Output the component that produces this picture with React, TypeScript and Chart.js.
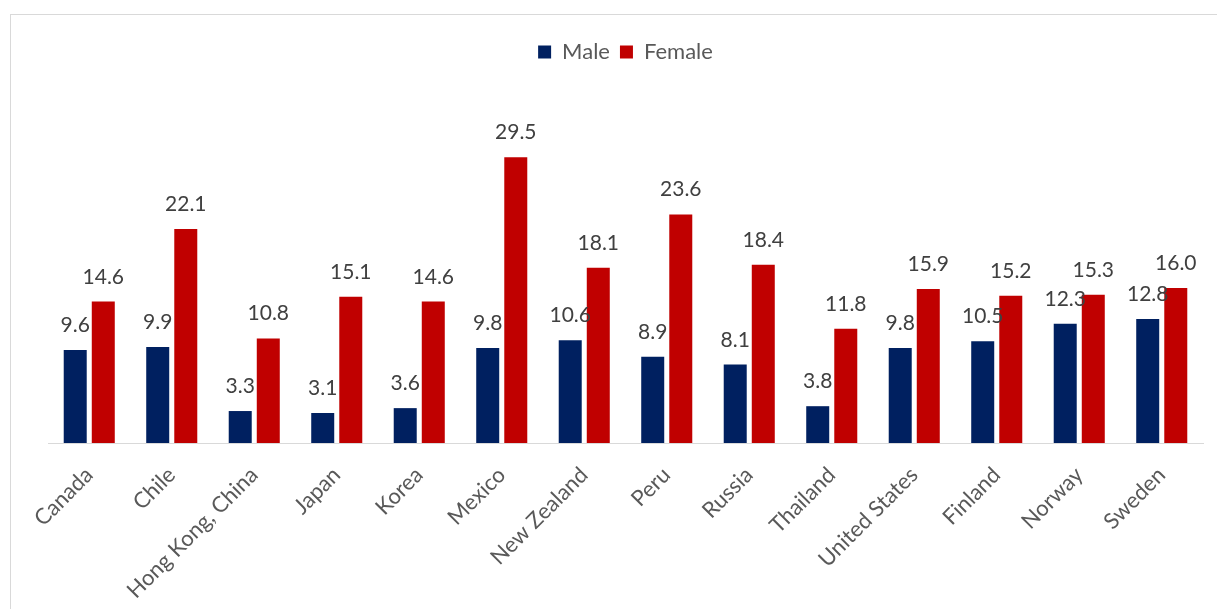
import React, { useEffect, useRef } from "react";
import { Chart, registerables } from "chart.js";

Chart.register(...registerables);

const categories = [
  "Canada", "Chile", "Hong Kong, China", "Japan", "Korea", "Mexico", "New Zealand",
  "Peru", "Russia", "Thailand", "United States", "Finland", "Norway", "Sweden",
];
const maleValues = [9.6, 9.9, 3.3, 3.1, 3.6, 9.8, 10.6, 8.9, 8.1, 3.8, 9.8, 10.5, 12.3, 12.8];
const femaleValues = [14.6, 22.1, 10.8, 15.1, 14.6, 29.5, 18.1, 23.6, 18.4, 11.8, 15.9, 15.2, 15.3, 16.0];
const seriesNames = ["Male", "Female"];

const FONT = "Lato";

const valueLabels = {
  id: "valueLabels",
  afterDatasetsDraw(chart: any) {
    const ctx = chart.ctx;
    ctx.save();
    ctx.font = `21px ${FONT}`;
    ctx.fillStyle = "#404040";
    ctx.textAlign = "center";
    ctx.textBaseline = "alphabetic";
    chart.data.datasets.forEach((ds: any, i: number) => {
      const meta = chart.getDatasetMeta(i);
      meta.data.forEach((el: any, j: number) => {
        ctx.fillText(Number(ds.data[j]).toFixed(1), el.x, el.y - 18);
      });
    });
    ctx.restore();
  },
};

const legendGap = {
  id: "legendGap",
  beforeInit(chart: any) {
    const lg = chart.legend;
    if (lg && !lg.__patched) {
      const orig = lg.fit;
      lg.fit = function () {
        orig.call(this);
        this.height += 31;
      };
      lg.__patched = true;
    }
  },
};

export default function App() {
  const ref = useRef<HTMLCanvasElement | null>(null);
  useEffect(() => {
    if (!ref.current) return;
    const chart = new Chart(ref.current, {
      type: "bar",
      data: {
        labels: categories,
        datasets: [
          {
            label: seriesNames[0],
            data: maleValues,
            backgroundColor: "#002060",
            categoryPercentage: 0.68,
            barPercentage: 0.82,
          },
          {
            label: seriesNames[1],
            data: femaleValues,
            backgroundColor: "#C00000",
            categoryPercentage: 0.68,
            barPercentage: 0.82,
          },
        ],
      },
      options: {
        responsive: false,
        animation: false,
        devicePixelRatio: 1,
        layout: { padding: { left: 48, right: 14, top: 31, bottom: 0 } },
        plugins: {
          legend: {
            position: "top",
            labels: {
              boxWidth: 13,
              boxHeight: 13,
              padding: 10,
              color: "#595959",
              font: { family: FONT, size: 22 },
            },
          },
          tooltip: { enabled: false },
        },
        scales: {
          x: {
            grid: { display: false },
            border: { display: true, color: "#d9d9d9", width: 1 },
            ticks: {
              color: "#595959",
              font: { family: FONT, size: 22 },
              minRotation: 45,
              maxRotation: 45,
              autoSkip: false,
              padding: 11,
            },
            afterFit(scale: any) {
              scale.height = 166;
              scale.paddingLeft = 0;
              scale.paddingRight = 0;
            },
          },
          y: {
            display: false,
            min: 0,
            max: 35,
          },
        },
      },
      plugins: [valueLabels, legendGap],
    } as any);
    return () => chart.destroy();
  }, []);

  return (
    <div style={{ position: "fixed", left: 0, top: 0, width: 1217, height: 609, overflow: "hidden", background: "#fff" }}>
      <div
        style={{
          position: "absolute",
          left: 10,
          top: 14,
          right: 0,
          bottom: 0,
          borderLeft: "1px solid #d9d9d9",
          borderTop: "1px solid #d9d9d9",
        }}
      />
      <canvas ref={ref} width={1217} height={609} style={{ position: "absolute", left: 0, top: 0, width: 1217, height: 609 }} />
    </div>
  );
}
